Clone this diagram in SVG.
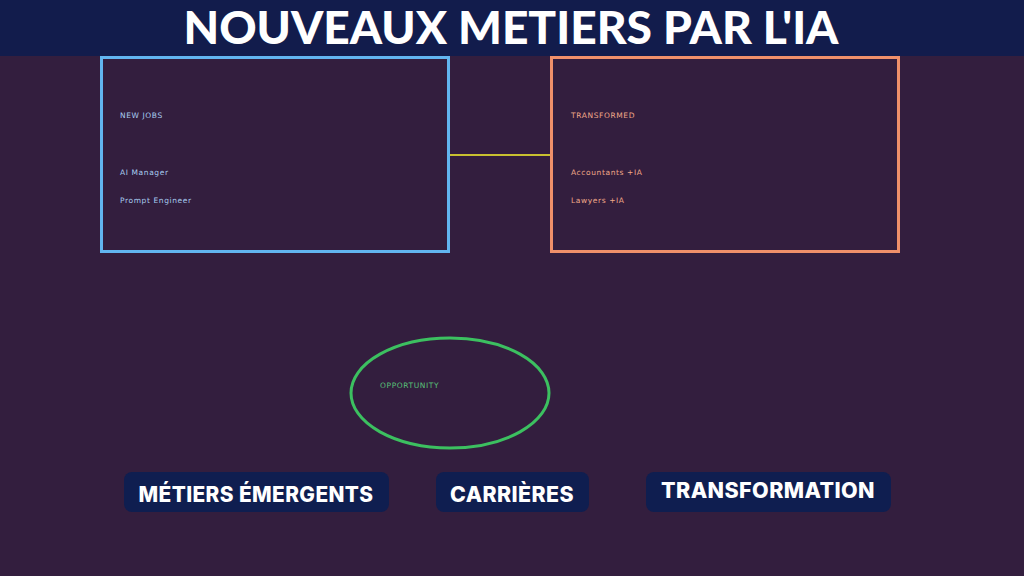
<svg xmlns="http://www.w3.org/2000/svg" width="1024" height="576" viewBox="0 0 1024 576">
<style>
.small{font-family:"DejaVu Sans","Liberation Sans",sans-serif;font-size:7.5px;letter-spacing:0.6px;font-weight:normal}
.btn{fill:#0f1e50}
.btxt{font-family:Inter,"Open Sans",sans-serif;font-weight:800;font-size:21px;letter-spacing:0.4px;fill:#ffffff;text-anchor:middle}
</style>
<rect width="1024" height="576" fill="#331e3e"/>
<g id="header">
<rect x="0" y="0" width="1024" height="56" fill="#121c4c"/>
<text x="511" y="44" font-family="Lato,'Open Sans',sans-serif" font-weight="900" font-size="46" fill="#ffffff" text-anchor="middle" textLength="655" lengthAdjust="spacingAndGlyphs">NOUVEAUX METIERS PAR L'IA</text>
</g>
<g id="connectors">
<line x1="449" y1="155" x2="551" y2="155" stroke="#c8c030" stroke-width="2"/>
</g>
<g id="new-jobs">
<rect x="101.5" y="57.5" width="347" height="194" fill="none" stroke="#62b5f0" stroke-width="3"/>
<text class="small" x="120" y="118" fill="#a8ccf0">NEW JOBS</text>
<text class="small" x="120" y="175" fill="#a8ccf0">AI Manager</text>
<text class="small" x="120" y="203" fill="#a8ccf0">Prompt Engineer</text>
</g>
<g id="transformed">
<rect x="551.5" y="57.5" width="347" height="194" fill="none" stroke="#f0906a" stroke-width="3"/>
<text class="small" x="571" y="118" fill="#f0a888">TRANSFORMED</text>
<text class="small" x="571" y="175" fill="#f0a888">Accountants +IA</text>
<text class="small" x="571" y="203" fill="#f0a888">Lawyers +IA</text>
</g>
<g id="opportunity">
<ellipse cx="450" cy="393" rx="99" ry="55" fill="none" stroke="#3cc060" stroke-width="3"/>
<text class="small" x="380" y="388" fill="#58c078">OPPORTUNITY</text>
</g>
<g id="btn-metiers">
<rect class="btn" x="124" y="472" width="265" height="40" rx="8"/>
<text class="btxt" x="256" y="502" textLength="235" lengthAdjust="spacingAndGlyphs">MÉTIERS ÉMERGENTS</text>
</g>
<g id="btn-carrieres">
<rect class="btn" x="436" y="472" width="153" height="40" rx="8"/>
<text class="btxt" x="512" y="502" textLength="124" lengthAdjust="spacingAndGlyphs">CARRIÈRES</text>
</g>
<g id="btn-transformation">
<rect class="btn" x="646" y="472" width="245" height="40" rx="8"/>
<text class="btxt" x="768" y="498" textLength="214" lengthAdjust="spacingAndGlyphs">TRANSFORMATION</text>
</g>
</svg>
